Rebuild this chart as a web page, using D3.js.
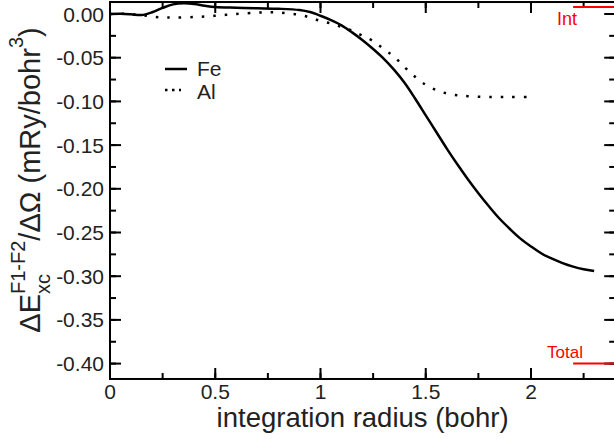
<!DOCTYPE html>
<html>
<head>
<meta charset="utf-8">
<script src="https://cdn.jsdelivr.net/npm/d3@7"></script>
<style>
  body { margin: 0; background: #fff; }
  svg { font-family: "Liberation Sans", Arial, sans-serif; }
</style>
</head>
<body>
<div class="chart"></div>
<script>
// chart values
var radius = [0, 0.05, 0.1, 0.15, 0.2, 0.25, 0.3, 0.35, 0.4, 0.45, 0.5, 0.6, 0.7, 0.8, 0.9, 0.95,
  1.0, 1.05, 1.1, 1.15, 1.2, 1.25, 1.3, 1.35, 1.4, 1.45, 1.5, 1.55, 1.6, 1.65, 1.7, 1.75,
  1.8, 1.85, 1.9, 1.95, 2.0, 2.05, 2.1, 2.15, 2.2, 2.25, 2.3];
var fe = [0, 0.0003, -0.0003, -0.0012, 0.002, 0.007, 0.011, 0.0122, 0.0115, 0.0095, 0.008, 0.0072, 0.0066, 0.006, 0.0045, 0.0022,
  -0.002, -0.007, -0.013, -0.021, -0.03, -0.04, -0.051, -0.064, -0.079, -0.097, -0.116, -0.135, -0.154, -0.172, -0.189, -0.205,
  -0.22, -0.234, -0.246, -0.257, -0.266, -0.274, -0.28, -0.285, -0.289, -0.292, -0.294];
var radiusAl = [0, 0.05, 0.1, 0.15, 0.2, 0.25, 0.3, 0.4, 0.5, 0.6, 0.7, 0.75, 0.8, 0.85, 0.9, 0.95,
  1.0, 1.05, 1.1, 1.15, 1.2, 1.25, 1.3, 1.35, 1.4, 1.45, 1.5, 1.55, 1.6, 1.65, 1.7, 1.8, 1.9, 2.0];
var al = [0, 0.0003, -0.0003, -0.0012, -0.003, -0.004, -0.004, -0.0035, -0.002, 0, 0.0015, 0.002, 0.0018, 0.0005, -0.001, -0.004,
  -0.008, -0.011, -0.015, -0.019, -0.025, -0.031, -0.04, -0.049, -0.061, -0.072, -0.081, -0.087, -0.091, -0.093, -0.094, -0.095, -0.095, -0.095];

// reference marks (red)
var refNames = ["Int", "Total"];
var refValues = [0.008, -0.40];
var refRange = [2.2, 2.4];

var xTicks = [0, 0.5, 1, 1.5, 2];
var yTicks = [0, -0.05, -0.1, -0.15, -0.2, -0.25, -0.3, -0.35, -0.4];

var width = 614, height = 439;

var x = d3.scaleLinear().domain([0, 2.4]).range([110, 615.2]);
var y = d3.scaleLinear().domain([-0.4, 0]).range([363.6, 14]);
var yMin = -0.4176, yMax = 0.0137;

var svg = d3.select("div.chart").append("svg")
  .attr("width", width)
  .attr("height", height);

// frame
svg.append("rect")
  .attr("x", x(0)).attr("y", y(yMax))
  .attr("width", x(2.4) - x(0)).attr("height", y(yMin) - y(yMax))
  .attr("fill", "none").attr("stroke", "#000").attr("stroke-width", 2);

var minorX = d3.range(0, 2.41, 0.25);
var minorY = d3.range(0, -0.41, -0.025);

// x ticks bottom + top
function xTickLines(vals, len) {
  svg.append("g").selectAll("line").data(vals).enter().append("line")
    .attr("x1", d => x(d)).attr("x2", d => x(d))
    .attr("y1", y(yMin)).attr("y2", y(yMin) - len)
    .attr("stroke", "#000").attr("stroke-width", 2);
  svg.append("g").selectAll("line").data(vals).enter().append("line")
    .attr("x1", d => x(d)).attr("x2", d => x(d))
    .attr("y1", y(yMax)).attr("y2", y(yMax) + len)
    .attr("stroke", "#000").attr("stroke-width", 2);
}
xTickLines(minorX, 6);
xTickLines(xTicks, 11);

function yTickLines(vals, len) {
  svg.append("g").selectAll("line").data(vals).enter().append("line")
    .attr("y1", d => y(d)).attr("y2", d => y(d))
    .attr("x1", x(0)).attr("x2", x(0) + len)
    .attr("stroke", "#000").attr("stroke-width", 2);
  svg.append("g").selectAll("line").data(vals).enter().append("line")
    .attr("y1", d => y(d)).attr("y2", d => y(d))
    .attr("x1", x(2.4)).attr("x2", x(2.4) - len)
    .attr("stroke", "#000").attr("stroke-width", 2);
}
yTickLines(minorY, 6);
yTickLines(yTicks, 11);

// tick labels
svg.append("g").selectAll("text").data(xTicks).enter().append("text")
  .attr("x", d => x(d)).attr("y", 399)
  .attr("text-anchor", "middle")
  .attr("font-size", 21).attr("fill", "#222")
  .text(d => d);

svg.append("g").selectAll("text").data(yTicks).enter().append("text")
  .attr("x", 104).attr("y", d => y(d) + 7.5)
  .attr("text-anchor", "end")
  .attr("font-size", 21).attr("fill", "#222")
  .text(d => d3.format(".2f")(d).replace("\u2212", "-"));

// axis titles
svg.append("text")
  .attr("x", (x(0) + x(2.4)) / 2).attr("y", 427)
  .attr("text-anchor", "middle")
  .attr("font-size", 27.5).attr("fill", "#222")
  .text("integration radius (bohr)");

// y title built from pieces: main / sup / sub
var yl = svg.append("g");
var pieces = [
  {t: "\u0394E", s: 29, dy: 0, adv: true},
  {t: "F1-F2", s: 20, dy: -15, adv: false},
  {t: "xc", s: 20, dy: 10, adv: "max"},
  {t: "/\u0394\u03a9 (mRy/bohr", s: 29, dy: 0, adv: true},
  {t: "3", s: 20, dy: -17, adv: true},
  {t: ")", s: 29, dy: 0, adv: true}
];
var cx = 0, pend = 0;
pieces.forEach(function (p) {
  var t = yl.append("text")
    .attr("x", cx).attr("y", p.dy)
    .attr("font-size", p.s).attr("fill", "#222")
    .text(p.t);
  var w = t.node().getComputedTextLength();
  if (p.adv === false) { pend = w; }
  else if (p.adv === "max") { cx += Math.max(pend, w); }
  else { cx += w; }
});
yl.attr("transform", "translate(40," + (180 + cx / 2) + ") rotate(-90)");

// curves
var line = d3.line()
  .x(d => x(d[0])).y(d => y(d[1]))
  .curve(d3.curveCatmullRom);

svg.append("path")
  .attr("d", line(radius.map((r, i) => [r, fe[i]])))
  .attr("fill", "none").attr("stroke", "#000").attr("stroke-width", 2.5);

svg.append("path")
  .attr("d", line(radiusAl.map((r, i) => [r, al[i]])))
  .attr("fill", "none").attr("stroke", "#000").attr("stroke-width", 2.5)
  .attr("stroke-dasharray", "2.5,9");

// red reference marks
refValues.forEach(function (v, i) {
  svg.append("line")
    .attr("x1", x(refRange[0])).attr("x2", x(refRange[1]))
    .attr("y1", y(v)).attr("y2", y(v))
    .attr("stroke", "#f00").attr("stroke-width", 2);
});
svg.append("text")
  .attr("x", x(refRange[0]) - 16).attr("y", 25)
  .attr("font-size", 18).attr("fill", "#f00")
  .text(refNames[0]);
svg.append("text")
  .attr("x", x(refRange[0]) - 26).attr("y", 358)
  .attr("font-size", 17).attr("fill", "#f00")
  .text(refNames[1]);

// legend
var legend = svg.append("g");
legend.append("line")
  .attr("x1", 165).attr("x2", 187).attr("y1", 69).attr("y2", 69)
  .attr("stroke", "#000").attr("stroke-width", 2.5);
legend.append("text").attr("x", 197).attr("y", 76)
  .attr("font-size", 21).attr("fill", "#222").text("Fe");
legend.append("line")
  .attr("x1", 165).attr("x2", 181).attr("y1", 90).attr("y2", 90)
  .attr("stroke", "#000").attr("stroke-width", 2.5)
  .attr("stroke-dasharray", "2.5,4.5");
legend.append("text").attr("x", 197).attr("y", 99)
  .attr("font-size", 21).attr("fill", "#222").text("Al");
</script>
</body>
</html>
